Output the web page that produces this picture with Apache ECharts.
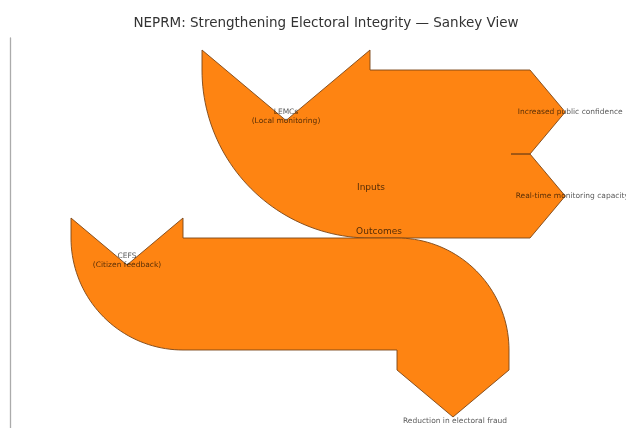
<!DOCTYPE html>
<html><head><meta charset="utf-8">
<script src="https://cdn.jsdelivr.net/npm/echarts@6/dist/echarts.min.js"></script>
<style>html,body{margin:0;padding:0;background:#fff}#chart{width:626px;height:428px}</style>
</head><body><div id="chart"></div>
<script>
// ---------------- Data ----------------
const diagramNames = ['Inputs', 'Outcomes'];
const inputLabels = ['LEMCs\n(Local monitoring)', 'CEFS\n(Citizen feedback)'];
const inputFlows = [0.6, 0.4];
const inputsOutLabels = ['Increased public confidence', 'Real-time monitoring capacity'];
const inputsOutFlows = [-0.3, -0.3];
const outcomesOutLabels = ['Reduction in electoral fraud'];
const outcomesOutFlows = [-0.4];

// ---------------- Layout (axis units) ----------------
const SCALE = 280;                         // axis units per unit of flow
const K = 1 / Math.tan(50 * Math.PI / 180); // arrow head depth factor (head angle 100deg)
const PATH = 20;                           // straight path length before arrows
const D1 = { x0: 360, yTop: 32, trunk: 160 };
const D2 = { x0: 173, yTop: D1.yTop + inputFlows[0] * SCALE, trunk: 214 };
const FILL = '#fe8412', EDGE = '#7a4516';
const LABEL_FILL = 'rgba(0,0,0,0.68)';

function arcPts(cx, cy, r, a0, a1, n) {
  const pts = [];
  for (let i = 0; i <= n; i++) {
    const a = (a0 + (a1 - a0) * i / n) * Math.PI / 180;
    pts.push([cx + r * Math.cos(a), cy + r * Math.sin(a)]);
  }
  return pts;
}

function buildInputs() {
  const w = inputFlows[0] * SCALE;
  const x0 = D1.x0, yT = D1.yTop, x1 = x0 + D1.trunk, ya = yT - PATH;
  const inTip = [x0 - w / 2, ya + K * w / 2];
  const pts = [[x0 - w, ya], inTip, [x0, ya], [x0, yT], [x1, yT]];
  let t = yT;
  const labels = [{ text: inputLabels[0], pos: [inTip[0], inTip[1] - 4], size: 7.5 }];
  inputsOutFlows.forEach((f, i) => {
    const wi = -f * SCALE;
    if (i > 0) { pts.push([x1 - 19, t]); pts.push([x1, t]); }
    const tip = [x1 + K * wi / 2, t + wi / 2];
    pts.push(tip);
    pts.push([x1, t + wi]);
    labels.push({ text: inputsOutLabels[i], pos: [tip[0] + 5 + i * 2, tip[1]], size: 7.5 });
    t += wi;
  });
  pts.push([x0, yT + w]);
  arcPts(x0, yT, w, 90, 180, 48).forEach(p => pts.push(p));
  labels.push({ text: diagramNames[0], pos: [x0 + 1, yT + 118], size: 9 });
  return { pts, labels };
}

function buildOutcomes() {
  const w = inputFlows[1] * SCALE;
  const wo = -outcomesOutFlows[0] * SCALE;
  const x0 = D2.x0, yT = D2.yTop, x1 = x0 + D2.trunk, ya = yT - PATH;
  const inTip = [x0 - w / 2, ya + K * w / 2];
  const pts = [[x0 - w, ya], inTip, [x0, ya], [x0, yT], [x1, yT]];
  arcPts(x1, yT + wo, wo, -90, 0, 40).forEach(p => pts.push(p));
  const yb = yT + wo + PATH;
  const outTip = [x1 + wo / 2, yb + K * wo / 2];
  pts.push([x1 + wo, yb], outTip, [x1, yb], [x1, yT + wo]);
  pts.push([x0, yT + w]);
  arcPts(x0, yT, w, 90, 180, 40).forEach(p => pts.push(p));
  const labels = [
    { text: inputLabels[1], pos: [inTip[0], inTip[1] - 4.5], size: 7.5 },
    { text: outcomesOutLabels[0], pos: [outTip[0] + 2, outTip[1] + 4.5], size: 7.5 },
    { text: diagramNames[1], pos: [x0 + 196, yT - 6], size: 9 }
  ];
  return { pts, labels };
}

const built = [buildInputs(), buildOutcomes()];

function renderItem(params, api) {
  const d = built[params.dataIndex];
  const children = [{
    type: 'polygon',
    shape: { points: d.pts.map(p => api.coord(p)) },
    style: { fill: FILL, stroke: EDGE, lineWidth: 0.9 }
  }];
  d.labels.forEach(l => {
    const c = api.coord(l.pos);
    children.push({
      type: 'text', x: c[0], y: c[1], z2: 10,
      style: {
        text: l.text, fill: LABEL_FILL,
        font: l.size + 'px "DejaVu Sans"', lineHeight: l.size * 1.3,
        align: 'center', verticalAlign: 'middle',
        textAlign: 'center', textVerticalAlign: 'middle'
      }
    });
  });
  return { type: 'group', children };
}

const chart = echarts.init(document.getElementById('chart'), null, { renderer: 'canvas' });
chart.setOption({
  animation: false,
  backgroundColor: '#ffffff',
  title: {
    text: 'NEPRM: Strengthening Electoral Integrity — Sankey View',
    left: 321, top: 11, textAlign: 'center',
    textStyle: { fontFamily: 'DejaVu Sans', fontSize: 13.5, fontWeight: 'normal', color: '#333333' }
  },
  grid: { left: 10, top: 38, right: 0, bottom: 0 },
  xAxis: { type: 'value', min: 0, max: 616, show: false },
  yAxis: {
    type: 'value', min: 0, max: 390, inverse: true,
    axisLine: { show: true, lineStyle: { color: '#ababab', width: 1.3 } },
    axisTick: { show: false }, axisLabel: { show: false }, splitLine: { show: false }
  },
  series: [{
    type: 'custom',
    renderItem: renderItem,
    clip: false,
    data: diagramNames.map((n, i) => ({ name: n, value: [i, i] }))
  }]
});
</script></body></html>
